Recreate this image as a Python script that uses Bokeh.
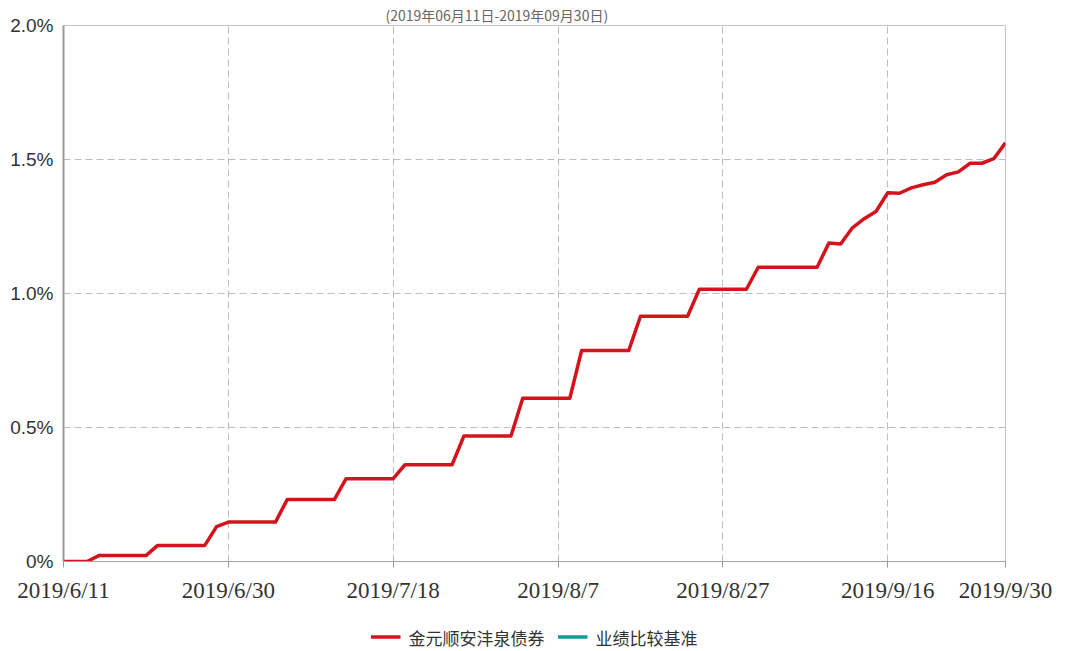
from bokeh.plotting import figure
from bokeh.layouts import column
from bokeh.models import FixedTicker, Legend, LegendItem, Range1d
from bokeh.embed import file_html
from bokeh.resources import INLINE

# ---------------- data ----------------
title_text = "(2019年06月11日-2019年09月30日)"
series_names = ["金元顺安沣泉债券", "业绩比较基准"]

# date tick labels (one per 14 observations) plus the end date
tick_index = [0, 14, 28, 42, 56, 70, 80]
tick_labels = ["2019/6/11", "2019/6/30", "2019/7/18", "2019/8/7",
               "2019/8/27", "2019/9/16", "2019/9/30"]

y_ticks = [0, 0.5, 1.0, 1.5, 2.0]
y_tick_labels = ["0%", "0.5%", "1.0%", "1.5%", "2.0%"]

# cumulative return of the fund, in percent (81 observations)
fund_values = [
    0.000, 0.000, 0.000, 0.022, 0.022, 0.022, 0.022, 0.022,
    0.060, 0.060, 0.060, 0.060, 0.060, 0.130, 0.147, 0.147,
    0.147, 0.147, 0.147, 0.231, 0.231, 0.231, 0.231, 0.231,
    0.309, 0.309, 0.309, 0.309, 0.309, 0.361, 0.361, 0.361,
    0.361, 0.361, 0.468, 0.468, 0.468, 0.468, 0.468, 0.609,
    0.609, 0.609, 0.609, 0.609, 0.787, 0.787, 0.787, 0.787,
    0.787, 0.915, 0.915, 0.915, 0.915, 0.915, 1.016, 1.016,
    1.016, 1.016, 1.016, 1.098, 1.098, 1.098, 1.098, 1.098,
    1.098, 1.188, 1.185, 1.245, 1.279, 1.306, 1.376, 1.374,
    1.394, 1.406, 1.415, 1.443, 1.454, 1.486, 1.486, 1.503,
    1.562,
]
# benchmark series is listed in the legend but has no visible line
benchmark_values = []

fund_x = list(range(len(fund_values)))
bench_x = list(range(len(benchmark_values)))

red = "#d4141c"
teal = "#17999a"

# ---------------- main figure ----------------
p = figure(
    width=1071, height=622,
    x_range=Range1d(0, tick_index[-1]), y_range=Range1d(y_ticks[0], y_ticks[-1]),
    output_backend="svg", toolbar_location=None,
    min_border_left=63, min_border_right=66, min_border_top=25, min_border_bottom=61,
)
p.background_fill_color = "white"
p.border_fill_color = "white"
p.outline_line_color = "#c4c4c4"
p.outline_line_width = 1

# title (period) sits just above the plot area
p.title.text = title_text
p.title.text_font = "Noto Sans CJK SC"
p.title.text_font_size = "14px"
p.title.text_font_style = "normal"
p.title.text_color = "#666666"
p.title.align = "left"
p.title.offset = 322
p.title.standoff = 2

p.line(fund_x, fund_values, line_color=red, line_width=3.5, line_join="round")
p.line(bench_x, benchmark_values, line_color=teal, line_width=3.5)

# axes
xa = p.xaxis[0]
xa.ticker = FixedTicker(ticks=tick_index)
xa.major_label_overrides = {i: l for i, l in zip(tick_index, tick_labels)}
xa.major_label_text_font = "Liberation Serif"
xa.major_label_text_font_size = "23px"
xa.major_label_text_color = "#333333"
xa.major_label_standoff = 10
xa.major_tick_out = 6
xa.major_tick_in = 0
xa.major_tick_line_color = "#999999"
xa.minor_tick_line_color = None
xa.axis_line_color = "#a0a0a0"
xa.axis_line_width = 1

ya = p.yaxis[0]
ya.ticker = FixedTicker(ticks=y_ticks)
ya.major_label_overrides = {t: l for t, l in zip(y_ticks, y_tick_labels)}
ya.major_label_text_font = "Liberation Sans"
ya.major_label_text_font_size = "19px"
ya.major_label_text_color = "#333333"
ya.major_label_standoff = 10
ya.major_tick_out = 0
ya.major_tick_in = 0
ya.minor_tick_line_color = None
ya.axis_line_color = "#999999"
ya.axis_line_width = 2

# grid
for g in (p.xgrid, p.ygrid):
    g.grid_line_color = "#bdbdbd"
    g.grid_line_dash = "7 4"
    g.grid_line_width = 1

# ---------------- legend strip ----------------
q = figure(
    width=1071, height=29, x_axis_type=None, y_axis_type=None,
    output_backend="svg", toolbar_location=None,
    min_border_left=0, min_border_right=0, min_border_top=0, min_border_bottom=0,
)
q.outline_line_color = None
q.xgrid.visible = False
q.ygrid.visible = False
no_data = [float("nan")]
leg_fund = q.line(no_data, no_data, line_color=red, line_width=3.5)
leg_bench = q.line(no_data, no_data, line_color=teal, line_width=3.5)

legend = Legend(
    items=[LegendItem(label=series_names[0], renderers=[leg_fund]),
           LegendItem(label=series_names[1], renderers=[leg_bench])],
    orientation="horizontal", location="center",
    label_text_font="Noto Sans CJK SC", label_text_font_size="17px", label_text_color="#333333",
    glyph_width=30, glyph_height=18, label_standoff=8, spacing=13,
    padding=0, margin=0, border_line_color=None, background_fill_alpha=0,
)
q.add_layout(legend, "center")

layout = column(p, q, spacing=0)
open("out.html", "w").write(file_html(layout, INLINE))
